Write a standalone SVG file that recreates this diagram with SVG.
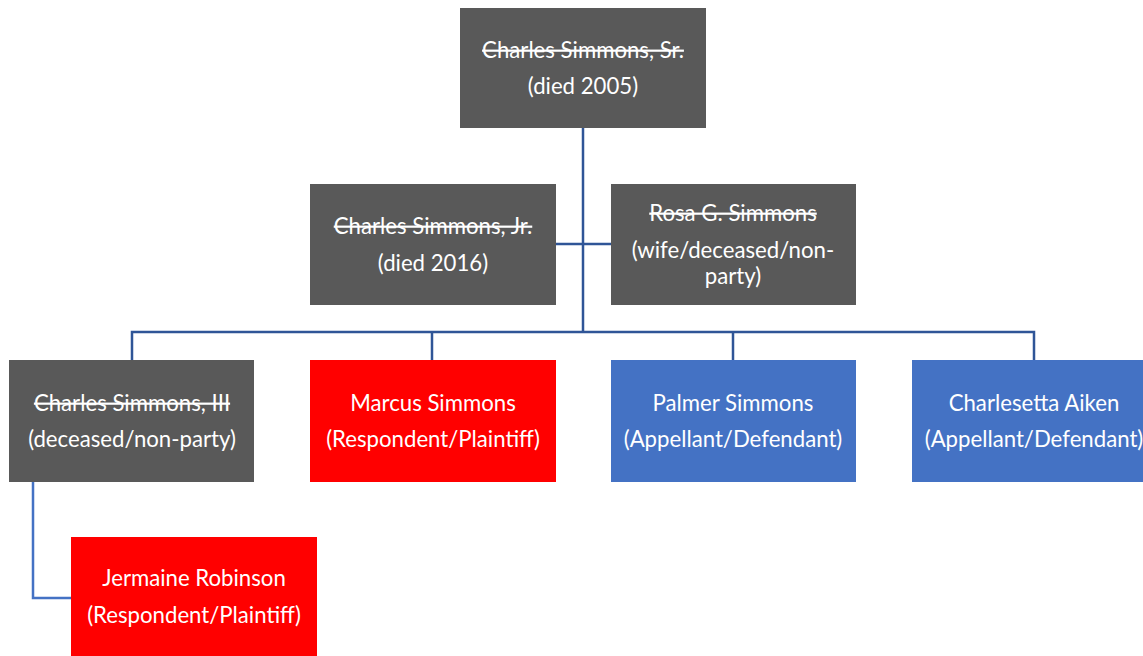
<svg xmlns="http://www.w3.org/2000/svg" width="1143" height="656" viewBox="0 0 1143 656">
<style>
.gray{fill:#595959}
.red{fill:#FF0000}
.blue{fill:#4472C4}
text{font-family:Lato,"Liberation Sans",sans-serif;font-size:22.2px;fill:#FFFFFF;text-anchor:middle}
.strike{text-decoration:line-through}
.conn{stroke:#2F5597;stroke-width:2.5;fill:none}
.conn2{stroke:#4472C4;stroke-width:2.5;fill:none}
</style>
<rect width="1143" height="656" fill="#FFFFFF"/>
<g id="connectors">
<path class="conn" d="M583 128 V332"/>
<path class="conn" d="M556 244 H611"/>
<path class="conn" d="M132 360 V332 H1034 V360"/>
<path class="conn" d="M432 332 V360"/>
<path class="conn" d="M733 332 V360"/>
<path class="conn2" d="M33 482 V598 H71"/>
</g>
<g id="sr">
<rect class="gray" x="460" y="8" width="246" height="120"/>
<text x="583" y="58" class="strike">Charles Simmons, Sr.</text>
<text x="583" y="94">(died 2005)</text>
</g>
<g id="jr">
<rect class="gray" x="310" y="184" width="246" height="121"/>
<text x="433" y="234" class="strike">Charles Simmons, Jr.</text>
<text x="433" y="271">(died 2016)</text>
</g>
<g id="rosa">
<rect class="gray" x="611" y="184" width="245" height="121"/>
<text x="733" y="221" class="strike">Rosa G. Simmons</text>
<text x="733" y="258">(wife/deceased/non-</text>
<text x="733" y="284">party)</text>
</g>
<g id="iii">
<rect class="gray" x="9" y="360" width="245" height="122"/>
<text x="132" y="411" class="strike">Charles Simmons, III</text>
<text x="132" y="447">(deceased/non-party)</text>
</g>
<g id="marcus">
<rect class="red" x="310" y="360" width="246" height="122"/>
<text x="433" y="411">Marcus Simmons</text>
<text x="433" y="447">(Respondent/Plaintiff)</text>
</g>
<g id="palmer">
<rect class="blue" x="611" y="360" width="245" height="122"/>
<text x="733" y="411">Palmer Simmons</text>
<text x="733" y="447">(Appellant/Defendant)</text>
</g>
<g id="charlesetta">
<rect class="blue" x="912" y="360" width="245" height="122"/>
<text x="1034" y="411">Charlesetta Aiken</text>
<text x="1034" y="447">(Appellant/Defendant)</text>
</g>
<g id="jermaine">
<rect class="red" x="71" y="537" width="246" height="122"/>
<text x="194" y="586">Jermaine Robinson</text>
<text x="194" y="623">(Respondent/Plaintiff)</text>
</g>
</svg>
